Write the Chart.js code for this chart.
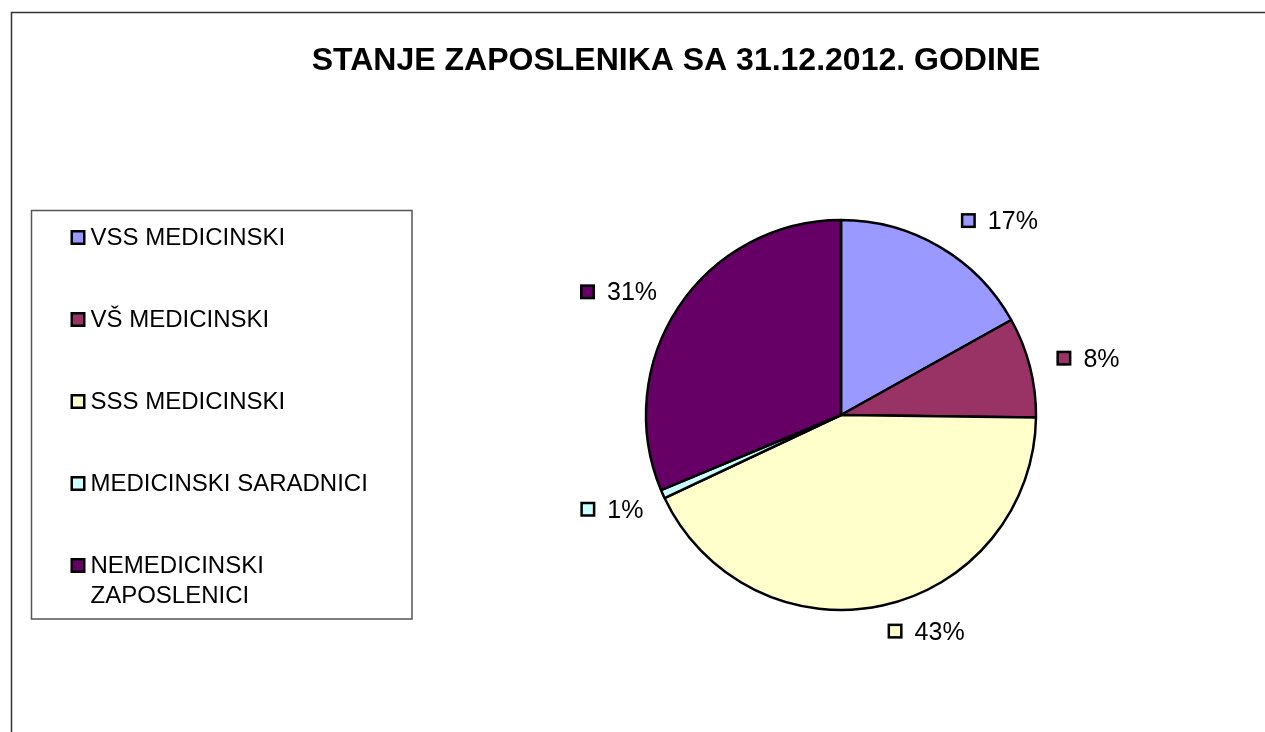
<!DOCTYPE html>
<html>
<head>
<meta charset="utf-8">
<script src="https://cdn.jsdelivr.net/npm/chart.js@4"></script>
<style>
    body { margin: 0; background: #fff; }
    canvas { display: block; }
</style>
</head>
<body>
<canvas id="myChart" width="1265" height="732"></canvas>
<script>

const title = 'STANJE ZAPOSLENIKA SA 31.12.2012. GODINE';

const categories = [
    'VSS MEDICINSKI',
    'VŠ MEDICINSKI',
    'SSS MEDICINSKI',
    'MEDICINSKI SARADNICI',
    'NEMEDICINSKI ZAPOSLENICI',
];

// share of employees in percent
const values = [16.9, 8.3, 42.8, 0.7, 31.3];

const colors = ['#9999FF', '#993366', '#FFFFCC', '#CCFFFF', '#660066'];

const fontFamily = '"Liberation Sans", Arial, sans-serif';

// small hand adjustments of the label boxes, like Excel's own placement
const labelNudge = [[11, 1], [7, 6], [1, -4], [0, -3], [-4, 6]];

//------------------------------------------ - helpers -----------------------------------------------

function marker(ctx, x, y, color) {
    ctx.fillStyle = color;
    ctx.fillRect(x + 1.25, y - 6.25, 12.5, 12.5);
    ctx.lineWidth = 2.5;
    ctx.strokeStyle = '#000';
    ctx.strokeRect(x + 1.25, y - 6.25, 12.5, 12.5);
}

function wrap(ctx, text, maxWidth) {
    const words = text.split(' ');
    const lines = [];
    let line = '';
    words.forEach(w => {
        const test = line ? line + ' ' + w : w;
        if (line && ctx.measureText(test).width > maxWidth) {
            lines.push(line);
            line = w;
        } else {
            line = test;
        }
    });
    lines.push(line);
    return lines;
}

const extras = {
    id: 'extras',
    afterDraw(chart) {
        const ctx = chart.ctx;
        ctx.save();

        // outer frame (only left and top edges are inside the picture)
        ctx.strokeStyle = '#333';
        ctx.lineWidth = 1.5;
        ctx.strokeRect(11.5, 12.5, 1400, 900);

        // title
        ctx.fillStyle = '#000';
        ctx.font = 'bold 32px ' + fontFamily;
        ctx.textAlign = 'center';
        ctx.textBaseline = 'middle';
        ctx.fillText(title, 676, 61);

        // legend box
        ctx.strokeStyle = '#555';
        ctx.lineWidth = 1.5;
        ctx.strokeRect(31.5, 210.5, 380.5, 408.5);

        ctx.font = '24px ' + fontFamily;
        ctx.textAlign = 'left';
        categories.forEach((c, i) => {
            const y = 237.5 + i * 82;
            marker(ctx, 70.5, y, colors[i]);
            ctx.fillStyle = '#000';
            wrap(ctx, c, 300).forEach((l, j) => {
                ctx.fillText(l, 90.5, y + 1 + j * 29.5);
            });
        });

        // percentage labels outside the pie
        const meta = chart.getDatasetMeta(0);
        const total = values.reduce((a, b) => a + b, 0);
        ctx.font = '25px ' + fontFamily;
        meta.data.forEach((arc, i) => {
            const p = arc.getProps(['x', 'y', 'startAngle', 'endAngle', 'outerRadius'], true);
            const mid = (p.startAngle + p.endAngle) / 2;
            const dx = Math.cos(mid), dy = Math.sin(mid);
            const d = p.outerRadius + 20;
            const px = p.x + dx * d, py = p.y + dy * d;
            const txt = Math.round(values[i] / total * 100) + '%';
            const w = 28 + ctx.measureText(txt).width;
            const h = 20;
            const bx = px + (dx >= 0 ? 0 : -w) + labelNudge[i][0];
            const cy = py + (dy >= 0 ? h / 2 : -h / 2) + labelNudge[i][1];
            marker(ctx, bx, cy, colors[i]);
            ctx.fillStyle = '#000';
            ctx.fillText(txt, bx + 27, cy + 1.5);
        });

        ctx.restore();
    }
};

const data = {
    labels: categories,
    datasets: [{
        data: values,
        backgroundColor: colors,
        borderColor: '#000',
        borderWidth: 2.5,
        hoverOffset: 0,
    }]
};

const config = {
    type: 'pie',
    data: data,
    options: {
        responsive: false,
        animation: false,
        radius: 195,
        layout: {
            padding: {
                left: 645,
                right: 228,
                top: 220,
                bottom: 122,
            },
        },
        plugins: {
            legend: {
                display: false,
            },
            tooltip: {
                enabled: false,
            },
        },
    },
    plugins: [extras],
};

const myChart = new Chart(
    document.getElementById('myChart'),
    config
);
</script>
</body>
</html>
